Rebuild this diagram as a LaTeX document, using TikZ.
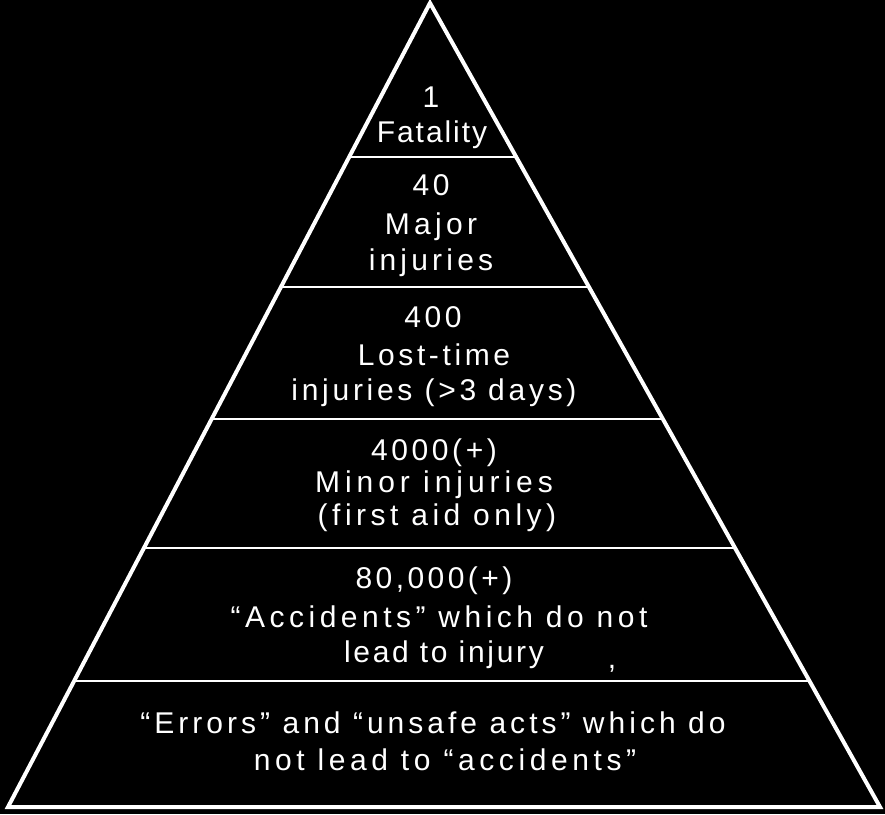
\documentclass[tikz,border=0pt]{standalone}
\usepackage{fontspec}
\setmainfont{Liberation Sans}
\usetikzlibrary{calc}
\begin{document}
\begin{tikzpicture}[x=1pt,y=-1pt,
  side/.style={draw=white, line width=4pt, line join=miter},
  divider/.style={draw=white, line width=2pt},
  txt/.style={text=white, anchor=base, inner sep=0pt,
    font=\fontsize{30}{34}\selectfont\addfontfeatures{LetterSpace=#1}},
  txt/.default=11]
\fill[black] (0,0) rectangle (885,814);
\useasboundingbox (0,0) rectangle (885,814);
\coordinate (A) at (430,3);
\coordinate (L) at (8,807);
\coordinate (R) at (880,807);
\draw[side] (L) -- (A) -- (R) -- cycle;
\foreach \y/\n in {157/d1,287/d2,419/d3,548/d4,681/d5}{
  \coordinate (\n l) at ($(A)!{(\y-3)/804}!(L)$);
  \coordinate (\n r) at ($(A)!{(\y-3)/804}!(R)$);
  \draw[divider] (\n l) -- (\n r);
}
\node[txt] (t1a) at (431,107) {1};
\node[txt=6.5] (t1b) at (432,142) {Fatality};
\node[txt=12] (t2a) at (431,195) {40};
\node[txt=14.5] (t2b) at (431,234) {Major};
\node[txt=14] (t2c) at (431,270) {injuries};
\node[txt=12] (t3a) at (433,327) {400};
\node[txt=12] (t3b) at (434,365) {Lost-time};
\node[txt=12.4] (t3c) at (434,400) {injuries (>3 days)};
\node[txt=12] (t4a) at (434,460) {4000(+)};
\node[txt=16.5] (t4b) at (434,492) {Minor injuries};
\node[txt=15] (t4c) at (437,525) {(first aid only)};
\node[txt=11.5] (t5a) at (434,588) {80,000(+)};
\node[txt=15] (t5b) at (439,627) {“Accidents” which do not};
\node[txt=9] (t5c) at (444,662) {lead to injury};
\node[txt] (t5d) at (612,668) {,};
\node[txt=13.4] (t6a) at (433,733) {“Errors” and “unsafe acts” which do};
\node[txt=15.3] (t6b) at (445,770) {not lead to “accidents”};
\end{tikzpicture}
\end{document}
